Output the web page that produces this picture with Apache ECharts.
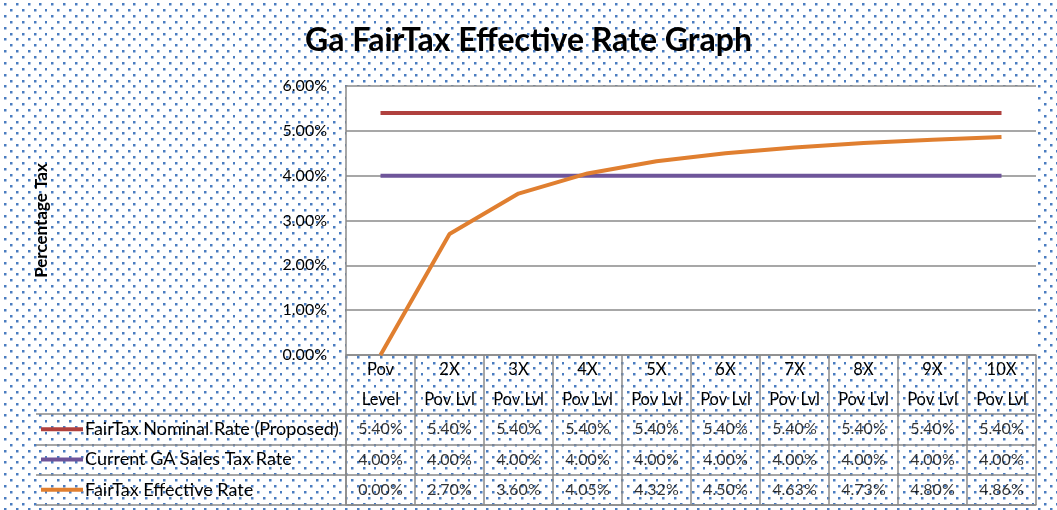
<!DOCTYPE html>
<html>
<head>
<meta charset="utf-8">
<title>Ga FairTax Effective Rate Graph</title>
<script src="https://cdn.jsdelivr.net/npm/echarts@6/dist/echarts.min.js"></script>
<style>
  html, body { margin: 0; padding: 0; background: #fff; }
  #main { width: 1057px; height: 510px; }
</style>
</head>
<body>
<div id="main"></div>
<script>
// categories (two lines in the header row)
var levels = ['Pov\nLevel', '2X\nPov Lvl', '3X\nPov Lvl', '4X\nPov Lvl', '5X\nPov Lvl',
              '6X\nPov Lvl', '7X\nPov Lvl', '8X\nPov Lvl', '9X\nPov Lvl', '10X\nPov Lvl'];
var seriesNames = ['FairTax Nominal Rate (Proposed)', 'Current GA Sales Tax Rate', 'FairTax Effective Rate'];
var nominalRate = [5.40, 5.40, 5.40, 5.40, 5.40, 5.40, 5.40, 5.40, 5.40, 5.40];
var currentRate = [4.00, 4.00, 4.00, 4.00, 4.00, 4.00, 4.00, 4.00, 4.00, 4.00];
var effectiveRate = [0.00, 2.70, 3.60, 4.05, 4.32, 4.50, 4.63, 4.73, 4.80, 4.86];
var colors = ['#b0413e', '#6e559a', '#e07f30'];

// dotted background like the excel pattern fill
var tile = document.createElement('canvas');
tile.width = 47; tile.height = 47;
var ctx = tile.getContext('2d');
ctx.fillStyle = '#4a7cc0';
for (var i = 0; i < 4; i++) {
  for (var j = 0; j < 4; j++) {
    ctx.fillRect(Math.round(4 + i * 11.75), Math.round(3 + j * 11.75), 2.5, 2.5);
    ctx.fillRect(Math.round(10 + i * 11.75), Math.round(9 + j * 11.75), 2.5, 2.5);
  }
}
document.body.style.backgroundImage = 'url(' + tile.toDataURL() + ')';

var allRates = [nominalRate, currentRate, effectiveRate];
var cells = [];
allRates.forEach(function (arr, r) {
  arr.forEach(function (v, c) {
    cells.push([c, r, v.toFixed(2) + '%']);
  });
});

var gray = '#8a8a8a';
var font = 'Lato';
var chart = echarts.init(document.getElementById('main'));

var option = {
  backgroundColor: 'transparent',
  textStyle: { fontFamily: font },
  title: {
    text: 'Ga FairTax Effective Rate Graph',
    left: 'center',
    top: 20,
    textStyle: { fontFamily: font, fontSize: 32, fontWeight: 'bold', color: '#000' }
  },
  grid: [
    { left: 346, top: 86, width: 690, height: 269, show: true, backgroundColor: '#fff', borderWidth: 0 },
    { left: 346, top: 414, width: 690, height: 91 }
  ],
  xAxis: [
    {
      type: 'category', gridIndex: 0, data: levels, boundaryGap: true,
      axisLine: { lineStyle: { color: gray, width: 1.5 } },
      axisTick: { show: true, length: 59, lineStyle: { color: gray, width: 1.5 } },
      axisLabel: { margin: 0, lineHeight: 30, fontSize: 16.5, color: '#000', fontFamily: font, interval: 0 }
    },
    {
      type: 'category', gridIndex: 1, data: levels, boundaryGap: true,
      axisLine: { show: true, lineStyle: { color: gray, width: 1.5 } },
      axisTick: { show: false },
      axisLabel: { show: false },
      splitLine: { show: true, lineStyle: { color: gray, width: 1.5 } }
    }
  ],
  yAxis: [
    {
      type: 'value', gridIndex: 0, min: 0, max: 6, interval: 1,
      name: 'Percentage Tax', nameLocation: 'middle', nameRotate: 90, nameGap: 296,
      nameTextStyle: { fontFamily: font, fontSize: 17, fontWeight: 'bold', color: '#000' },
      axisLine: { show: true, lineStyle: { color: gray, width: 1.5 } },
      axisTick: { show: false },
      axisLabel: {
        margin: 19, fontSize: 16, color: '#000', fontFamily: font,
        formatter: function (v) { return v.toFixed(2) + '%'; }
      },
      splitLine: { show: true, lineStyle: { color: gray, width: 1.5 } }
    },
    {
      type: 'category', gridIndex: 1, data: seriesNames, inverse: true,
      axisLine: { show: true, lineStyle: { color: gray, width: 1.5 } },
      axisTick: { show: true, length: 310, lineStyle: { color: gray, width: 1.5 } },
      splitLine: { show: true, lineStyle: { color: gray, width: 1.5 } },
      axisLabel: {
        margin: 305, align: 'left', fontSize: 18, color: '#000', fontFamily: font,
        formatter: function (v, idx) { return '{l' + idx + '|}{t|' + v + '}'; },
        rich: {
          l0: { backgroundColor: colors[0], width: 42, height: 4 },
          l1: { backgroundColor: colors[1], width: 42, height: 4 },
          l2: { backgroundColor: colors[2], width: 42, height: 4 },
          t: { fontSize: 18, color: '#000', fontFamily: font, padding: [0, 0, 0, 2] }
        }
      }
    },
    {
      type: 'category', gridIndex: 1, data: seriesNames, inverse: true, offset: 310,
      axisLine: { show: true, lineStyle: { color: gray, width: 1.5 } },
      axisTick: { show: false }, axisLabel: { show: false }
    }
  ],
  series: [
    { name: seriesNames[0], type: 'line', xAxisIndex: 0, yAxisIndex: 0, data: nominalRate, symbol: 'none',
      lineStyle: { color: colors[0], width: 4 } },
    { name: seriesNames[1], type: 'line', xAxisIndex: 0, yAxisIndex: 0, data: currentRate, symbol: 'none',
      lineStyle: { color: colors[1], width: 4 } },
    { name: seriesNames[2], type: 'line', xAxisIndex: 0, yAxisIndex: 0, data: effectiveRate, symbol: 'none',
      lineStyle: { color: colors[2], width: 4 } },
    {
      type: 'scatter', xAxisIndex: 1, yAxisIndex: 1, data: cells, symbolSize: 1,
      itemStyle: { color: 'rgba(0,0,0,0)' }, silent: true,
      label: {
        show: true, position: 'inside', fontSize: 16, color: '#000', fontFamily: font,
        formatter: function (p) { return p.value[2]; }
      }
    }
  ]
};
chart.setOption(option);
</script>
</body>
</html>
